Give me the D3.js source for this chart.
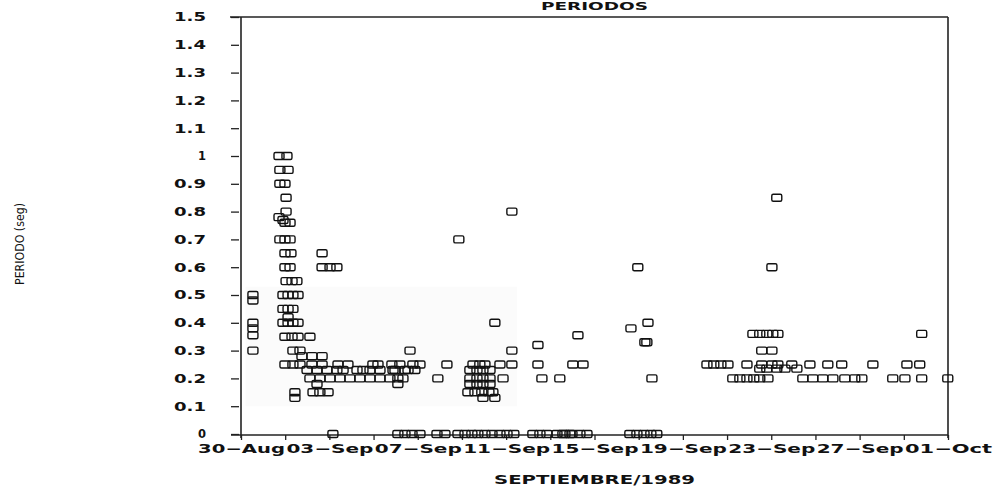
<!DOCTYPE html>
<html lang="es">
<head>
<meta charset="UTF-8">
<title>Periodos</title>
<style>
  * {padding:0; margin:0;}
  body {background:#fff;}
  #grafico text {fill:#111; font-family:"DejaVu Sans", sans-serif;}
  .marca {fill:none; stroke:#111; stroke-width:1.4px;}
  .eje path {display:none;}
  .eje line {stroke:#222; stroke-width:1.3px;}
  .eje text {font-size:12px; font-weight:bold;}
  .marco {stroke:#222; stroke-width:1.6px;}
</style>
</head>
<body>
<script src="https://cdn.jsdelivr.net/npm/d3@7"></script>
<svg id="grafico" width="993" height="488"></svg>
<script>
// dias contados desde el 30-Ago-1989 00:00, periodo en segundos
var grupoAgosto = [[0.54,0.5],[0.54,0.48],[0.54,0.4],[0.54,0.38],[0.54,0.355],[0.54,0.3]];

var grupoSep01 = [
  [1.72,1.0],[2.08,1.0],[1.76,0.95],[2.13,0.95],[1.76,0.9],[1.99,0.9],
  [2.04,0.85],[2.04,0.8],[1.72,0.78],[1.90,0.77],[1.99,0.76],[2.22,0.76],
  [1.76,0.7],[1.99,0.7],[2.22,0.7],[1.99,0.65],[2.26,0.65],[3.67,0.65],
  [1.99,0.6],[2.22,0.6],[3.67,0.6],[4.03,0.6],[4.34,0.6],
  [2.04,0.55],[2.31,0.55],[2.53,0.55],
  [1.90,0.5],[2.13,0.5],[2.35,0.5],[2.58,0.5],
  [1.90,0.45],[2.13,0.45],[2.35,0.45],[2.13,0.42],
  [1.90,0.4],[2.13,0.4],[2.35,0.4],[2.58,0.4],
  [1.99,0.35],[2.31,0.35],[2.58,0.35],[3.12,0.35],
  [2.35,0.3],[2.67,0.3],[7.65,0.3],
  [2.76,0.28],[3.21,0.28],[3.67,0.28]
];

var grupoSep03 = [
  [1.99,0.25],[2.35,0.25],[2.67,0.25],[3.21,0.25],[3.67,0.25],[4.39,0.25],[4.84,0.25],
  [5.97,0.25],[6.20,0.25],[6.83,0.25],[7.19,0.25],[7.78,0.25],[8.10,0.25],[9.32,0.25],
  [2.99,0.23],[3.44,0.23],[3.89,0.23],[4.34,0.23],[4.62,0.23],[5.25,0.23],[5.52,0.23],
  [5.84,0.23],[6.29,0.23],[6.88,0.23],[6.97,0.23],[7.42,0.23],[7.56,0.23],[7.87,0.23],
  [3.12,0.2],[3.57,0.2],[4.03,0.2],[4.48,0.2],[4.93,0.2],[5.38,0.2],[5.84,0.2],
  [6.29,0.2],[6.74,0.2],[7.10,0.2],[7.33,0.2],[8.91,0.2],
  [3.44,0.18],[7.10,0.18],[2.44,0.15],[3.26,0.15],[3.57,0.15],[3.94,0.15],[2.44,0.13]
];

var grupoSep10 = [
  [9.86,0.7],[12.26,0.8],[11.49,0.4],[12.26,0.3],
  [10.50,0.25],[10.81,0.25],[11.04,0.25],[11.72,0.25],[12.26,0.25],
  [10.36,0.23],[10.68,0.23],[10.95,0.23],[11.27,0.23],
  [10.36,0.2],[10.68,0.2],[10.95,0.2],[11.27,0.2],[11.86,0.2],
  [10.36,0.18],[10.68,0.18],[10.95,0.18],[11.27,0.18],
  [10.27,0.15],[10.59,0.15],[10.90,0.15],[11.22,0.15],[11.40,0.15],
  [10.95,0.13],[11.49,0.13]
];

var grupoSep14 = [
  [13.44,0.32],[13.44,0.25],[13.62,0.2],[14.43,0.2],
  [15.25,0.355],[15.02,0.25],[15.48,0.25]
];

var grupoSep18 = [
  [17.96,0.6],[18.42,0.4],[17.65,0.38],[18.28,0.33],[18.37,0.33],[18.60,0.2]
];

var grupoSep21 = [
  [21.09,0.25],[21.40,0.25],[21.72,0.25],[22.04,0.25],[22.90,0.25],[23.57,0.25],
  [24.03,0.25],[24.30,0.25],[24.93,0.25],[25.75,0.25],[26.56,0.25],[27.19,0.25],
  [28.60,0.25],[30.14,0.25],[30.72,0.25],
  [22.26,0.2],[22.58,0.2],[22.90,0.2],[23.21,0.2],[23.48,0.2],[23.85,0.2],
  [25.43,0.2],[25.88,0.2],[26.33,0.2],[26.79,0.2],[27.33,0.2],[27.78,0.2],[28.10,0.2],
  [29.50,0.2],[30.05,0.2],[30.81,0.2],[31.99,0.2],
  [23.48,0.235],[23.80,0.235],[24.25,0.235],[24.62,0.235],[25.16,0.235],
  [23.17,0.36],[23.48,0.36],[23.80,0.36],[24.07,0.36],[24.30,0.36],[30.81,0.36],
  [23.57,0.3],[24.03,0.3],[24.03,0.6],[24.25,0.85]
];

// registros con periodo cero (sobre el eje)
var diasCero = [4.16, 7.10, 7.42, 7.74, 8.10, 8.87, 9.23, 9.82, 10.14, 10.45, 10.72, 11.04,
  11.36, 11.72, 12.04, 12.35, 13.21, 13.53, 13.85, 14.30, 14.57, 14.66, 14.89, 14.98,
  15.34, 15.66, 17.60, 17.92, 18.24, 18.55, 18.82];

var valoresY = [0, 0.1, 0.2, 0.3, 0.4, 0.5, 0.6, 0.7, 0.8, 0.9, 1, 1.1, 1.2, 1.3, 1.4, 1.5];

var inicio = new Date(1989, 7, 30);
var fin = new Date(1989, 9, 1);
function fecha(dia) { return new Date(inicio.getTime() + dia * 864e5); }

var datos = [].concat(grupoAgosto, grupoSep01, grupoSep03, grupoSep10, grupoSep14, grupoSep18, grupoSep21,
  diasCero.map(function(d){ return [d, 0]; }));

var izq = 241, der = 948, arriba = 17, abajo = 434;
var x = d3.scaleTime().domain([inicio, fin]).range([izq, der]);
var y = d3.scaleLinear().domain([0, 1.5]).range([abajo, arriba]);

var svg = d3.select("#grafico");

// zona levemente gris del original escaneado
svg.append("rect")
  .attr("x", x(fecha(0.2))).attr("y", y(0.53))
  .attr("width", x(fecha(12.5)) - x(fecha(0.2)))
  .attr("height", y(0.1) - y(0.53))
  .attr("fill", "#fbfbfb");

// eje Y
var ejeY = d3.axisLeft(y).tickValues(valoresY).tickSize(8).tickPadding(25)
  .tickFormat(function(d){ return d === 0 ? "0" : String(+d.toFixed(1)); });
svg.append("g").attr("class", "eje").attr("transform", "translate(" + (izq - 2) + ",0)").call(ejeY)
  .selectAll("text")
  .attr("font-size", "13px")
  .attr("textLength", function(){ return this.textContent.length === 1 ? 8 : 32; })
  .attr("lengthAdjust", "spacingAndGlyphs");

// eje X
var ticksX = d3.timeDay.range(inicio, d3.timeDay.offset(fin, 1), 2);
var ejeX = d3.axisBottom(x).tickValues(ticksX).tickSize(5).tickPadding(4)
  .tickFormat(function(d, i){ return i % 2 === 0 ? d3.timeFormat("%d\u2212%b")(d) : ""; });
svg.append("g").attr("class", "eje").attr("transform", "translate(0," + (abajo + 1) + ")").call(ejeX)
  .selectAll("text").filter(function(){ return this.textContent !== ""; })
  .attr("font-size", "13px")
  .attr("textLength", 87).attr("lengthAdjust", "spacingAndGlyphs");

// marco
svg.append("line").attr("class", "marco").attr("x1", izq).attr("x2", izq).attr("y1", arriba).attr("y2", abajo + 4);
svg.append("line").attr("class", "marco").attr("x1", izq - 11).attr("x2", der).attr("y1", arriba).attr("y2", arriba);
svg.append("line").attr("class", "marco").attr("x1", der).attr("x2", der).attr("y1", arriba).attr("y2", abajo + 4);
svg.append("line").attr("class", "marco").attr("x1", izq - 10).attr("x2", der).attr("y1", abajo + 1).attr("y2", abajo + 1);

// puntos
svg.append("g").selectAll("rect")
  .data(datos)
  .enter()
  .append("rect")
  .attr("class", "marca")
  .attr("x", function(d){ return x(fecha(d[0])) - 5; })
  .attr("y", function(d){ return y(d[1]) - 3.5; })
  .attr("width", 10)
  .attr("height", 7)
  .attr("rx", 1.5);

// textos
svg.append("text").attr("x", (izq + der) / 2).attr("y", 10).attr("text-anchor", "middle")
  .attr("font-size", "11px").attr("font-weight", "bold")
  .attr("textLength", 107).attr("lengthAdjust", "spacingAndGlyphs").text("PERIODOS");
svg.append("text").attr("x", (izq + der) / 2).attr("y", 484).attr("text-anchor", "middle")
  .attr("font-size", "13px").attr("font-weight", "bold")
  .attr("textLength", 201).attr("lengthAdjust", "spacingAndGlyphs").text("SEPTIEMBRE/1989");
svg.append("text").attr("transform", "translate(24,244) rotate(-90)").attr("text-anchor", "middle")
  .attr("font-size", "13px")
  .attr("textLength", 82).attr("lengthAdjust", "spacingAndGlyphs").text("PERIODO (seg)");
</script>
</body>
</html>
